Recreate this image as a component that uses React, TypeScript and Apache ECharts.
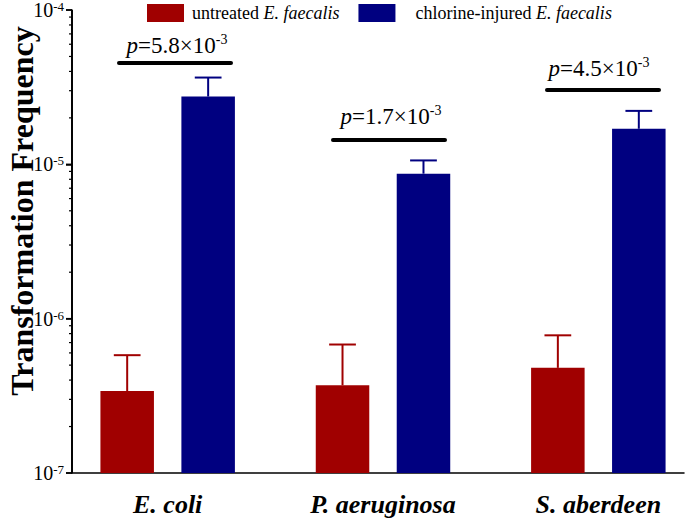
import React, { useEffect, useRef } from "react";
import * as echarts from "echarts";

const categories = ["E. coli", "P. aeruginosa", "S. aberdeen"];
const untreated = [3.4e-7, 3.7e-7, 4.8e-7];
const untreatedErr = [2.4e-7, 3.1e-7, 3.0e-7];
const chlorine = [2.75e-5, 8.7e-6, 1.7e-5];
const chlorineErr = [9.0e-6, 1.9e-6, 5.2e-6];
const pLabels = ["5.8", "1.7", "4.5"];
const yTickExponents = [-7, -6, -5, -4];
const minorMultipliers = [2, 3, 4, 5, 6, 7, 8, 9];
const yMin = 1e-7;
const yMax = 1e-4;

// tick positions (log10 units) for the exponent axis: [category, exponent, tick length]
const tickData: number[][] = [];
for (const e of yTickExponents) tickData.push([0, e, 6]);
for (let k = 0; k < yTickExponents.length - 1; k++) {
  for (const m of minorMultipliers) tickData.push([0, yTickExponents[k] + Math.log10(m), 3]);
}

const SERIF = "'Liberation Serif', 'Times New Roman', serif";
const RED = "#A00000";
const BLUE = "#000080";

function makeRender(offset: number, color: string) {
  return (params: any, api: any) => {
    const idx = api.value(0);
    const val = api.value(1);
    const err = api.value(2);
    const top = api.coord([idx, val]);
    const base = api.coord([idx, yMin]);
    const errTop = api.coord([idx, val + err]);
    const band = api.size([1, 0])[0];
    const w = band * 0.2485;
    const cx = top[0] + offset * band;
    const cap = w * 0.25;
    return {
      type: "group",
      children: [
        {
          type: "line",
          shape: { x1: cx, y1: top[1], x2: cx, y2: errTop[1] },
          style: { stroke: color, lineWidth: 2 },
        },
        {
          type: "line",
          shape: { x1: cx - cap, y1: errTop[1], x2: cx + cap, y2: errTop[1] },
          style: { stroke: color, lineWidth: 2 },
        },
        {
          type: "rect",
          shape: { x: cx - w / 2, y: top[1], width: w, height: base[1] - top[1] },
          style: { fill: color },
        },
      ],
    };
  };
}

function renderAxisTicks(params: any, api: any) {
  const cs = params.coordSys;
  const x = cs.x;
  const y = api.coord([0, api.value(1)])[1];
  const len = api.value(2);
  const children: any[] = [
    {
      type: "line",
      shape: { x1: x - len, y1: y, x2: x, y2: y },
      style: { stroke: "#000", lineWidth: len > 4 ? 1.5 : 1.2 },
    },
  ];
  if (params.dataIndex === 0) {
    children.push({
      type: "line",
      shape: { x1: x, y1: cs.y, x2: x, y2: cs.y + cs.height },
      style: { stroke: "#000", lineWidth: 1.5 },
    });
  }
  return { type: "group", children };
}

function pText(label: string, x: number, y: number) {
  return {
    type: "text",
    x,
    y,
    style: {
      text: `{i|p}{n|=${label}×10}{s|-3}`,
      align: "center",
      verticalAlign: "middle",
      rich: {
        i: { fontFamily: SERIF, fontSize: 23, fontStyle: "italic", fill: "#000", lineHeight: 26 },
        n: { fontFamily: SERIF, fontSize: 23, fill: "#000", lineHeight: 26 },
        s: { fontFamily: SERIF, fontSize: 14, fill: "#000", verticalAlign: "top", lineHeight: 16 },
      },
    },
  };
}

function bracket(x1: number, x2: number, y: number) {
  return {
    type: "line",
    shape: { x1, y1: y, x2, y2: y },
    style: { stroke: "#000", lineWidth: 4, lineCap: "round" },
  };
}

export default function App() {
  const ref = useRef<HTMLDivElement>(null);
  useEffect(() => {
    if (!ref.current) return;
    const chart = echarts.init(ref.current, null, { renderer: "svg" });
    const option: any = {
      animation: false,
      backgroundColor: "#fff",
      grid: [
        { left: 72, right: 1, top: 10, bottom: 47, outerBoundsMode: "none", containLabel: false },
        { left: 60, width: 646, top: 10, bottom: 47, outerBoundsMode: "none", containLabel: false },
      ],
      legend: {
        left: 147,
        top: 4,
        padding: 0,
        itemWidth: 37,
        itemHeight: 18,
        itemGap: 19,
        icon: "rect",
        data: ["untreated E. faecalis", "chlorine-injured E. faecalis"],
        formatter: (name: string) =>
          name.startsWith("untreated")
            ? "{g1|}{n|untreated }{i|E. faecalis}"
            : "{g2|}{n|chlorine-injured }{i|E. faecalis}",
        textStyle: {
          fontFamily: SERIF,
          fontSize: 18,
          color: "#000",
          rich: {
            g1: { width: 3 },
            g2: { width: 15 },
            n: { fontFamily: SERIF, fontSize: 18, color: "#000" },
            i: { fontFamily: SERIF, fontSize: 18, color: "#000", fontStyle: "italic" },
          },
        },
      },
      xAxis: [
        {
          type: "category",
          gridIndex: 0,
          position: "bottom",
          data: categories,
          axisLine: { show: true, onZero: false, lineStyle: { color: "#000", width: 1.5 } },
          axisTick: { show: false },
          axisLabel: { show: false },
        },
        {
          type: "category",
          gridIndex: 1,
          position: "bottom",
          data: categories,
          axisLine: { show: false, onZero: false },
          axisTick: { show: false },
          axisLabel: {
            margin: 18,
            fontFamily: SERIF,
            fontSize: 26,
            fontWeight: "bold",
            fontStyle: "italic",
            color: "#000",
          },
        },
      ],
      yAxis: [
        {
          // exponent axis: log10 of the frequency, carries the tick labels
          type: "value",
          gridIndex: 0,
          position: "left",
          min: yTickExponents[0],
          max: yTickExponents[yTickExponents.length - 1],
          interval: 1,
          axisLine: { show: true, onZero: false, lineStyle: { color: "#000", width: 1.5 } },
          axisTick: { show: true, length: 6, lineStyle: { color: "#000", width: 1.5 } },
          splitLine: { show: false },
          axisLabel: {
            margin: 8,
            formatter: (v: number) => `{a|10}{s|${v}}`,
            rich: {
              a: { fontFamily: SERIF, fontSize: 20, color: "#000", lineHeight: 20 },
              s: { fontFamily: SERIF, fontSize: 13, color: "#000", verticalAlign: "top", lineHeight: 13 },
            },
          },
        },
        {
          type: "log",
          gridIndex: 1,
          logBase: 10,
          min: yMin,
          max: yMax,
          show: false,
        },
      ],
      series: [
        {
          name: "axis",
          type: "custom",
          xAxisIndex: 0,
          yAxisIndex: 0,
          silent: true,
          z: 100,
          clip: false,
          renderItem: renderAxisTicks,
          data: tickData,
        },
        {
          name: "untreated E. faecalis",
          type: "custom",
          xAxisIndex: 1,
          yAxisIndex: 1,
          itemStyle: { color: RED },
          renderItem: makeRender(-0.188, RED),
          data: untreated.map((v, i) => [i, v, untreatedErr[i]]),
        },
        {
          name: "chlorine-injured E. faecalis",
          type: "custom",
          xAxisIndex: 1,
          yAxisIndex: 1,
          itemStyle: { color: BLUE },
          renderItem: makeRender(0.188, BLUE),
          data: chlorine.map((v, i) => [i, v, chlorineErr[i]]),
        },
      ],
      graphic: [
        {
          type: "text",
          x: 22,
          y: 211,
          rotation: Math.PI / 2,
          style: {
            text: "Transformation Frequency",
            align: "center",
            verticalAlign: "middle",
            font: `bold 32px ${SERIF}`,
            fill: "#000",
          },
        },
        {
          type: "line",
          z: 100,
          shape: { x1: 72, y1: 10, x2: 72, y2: 473 },
          style: { stroke: "#000", lineWidth: 1.5 },
        },
        pText(pLabels[0], 177, 45),
        bracket(119, 231, 63),
        pText(pLabels[1], 391, 116),
        bracket(333, 445, 140),
        pText(pLabels[2], 599, 68),
        bracket(547, 659, 90),
      ],
    };
    chart.setOption(option);
    return () => chart.dispose();
  }, []);
  return <div ref={ref} style={{ width: 685, height: 520, position: "absolute", left: 0, top: 0 }} />;
}
